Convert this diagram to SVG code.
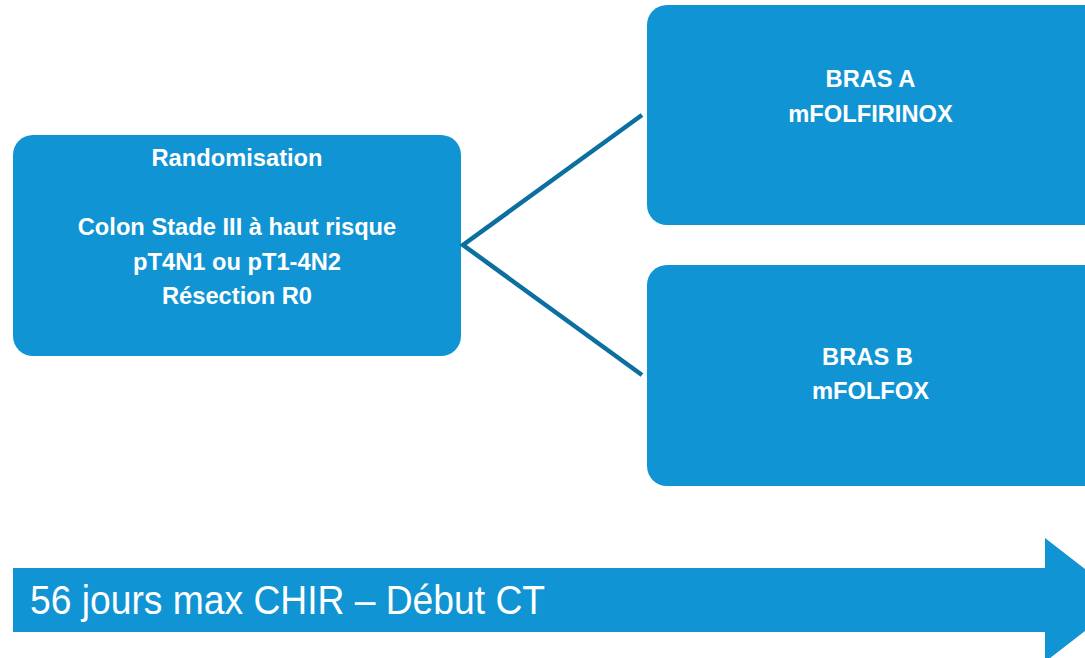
<svg xmlns="http://www.w3.org/2000/svg" width="1085" height="658" viewBox="0 0 1085 658">
  <style>
    .box { fill: #1094d3; }
    .lbl { fill: #ffffff; font-family: "Liberation Sans", Arial, sans-serif; font-weight: bold; font-size: 23.7px; text-anchor: middle; }
    .conn { stroke: #0b6fa0; stroke-width: 4.5; fill: none; }
    .tl { fill: #ffffff; font-family: "Liberation Sans", Arial, sans-serif; font-size: 40px; }
  </style>
  <rect width="1085" height="658" fill="#ffffff"/>

  <g id="randomisation">
    <rect class="box" x="13" y="135" width="448" height="221" rx="20"/>
    <text class="lbl" x="237" y="165.5">Randomisation</text>
    <text class="lbl" x="237" y="235">Colon Stade III à haut risque</text>
    <text class="lbl" x="237" y="269.5">pT4N1 ou pT1-4N2</text>
    <text class="lbl" x="237" y="304">Résection R0</text>
  </g>

  <g id="bras-a">
    <rect class="box" x="647" y="5" width="460" height="220" rx="20"/>
    <text class="lbl" x="870.5" y="87">BRAS A</text>
    <text class="lbl" x="870.5" y="122">mFOLFIRINOX</text>
  </g>

  <g id="bras-b">
    <rect class="box" x="647" y="265" width="460" height="221" rx="20"/>
    <text class="lbl" x="867.5" y="365">BRAS B</text>
    <text class="lbl" x="870.5" y="399">mFOLFOX</text>
  </g>

  <g id="connectors">
    <polyline class="conn" points="642,115 463,245 642,375"/>
  </g>

  <g id="timeline">
    <polygon class="box" points="13,568 1045,568 1045,538 1125,600 1045,662 1045,632 13,632"/>
    <text class="tl" x="30" y="614" textLength="515" lengthAdjust="spacingAndGlyphs">56 jours max CHIR – Début CT</text>
  </g>
</svg>
